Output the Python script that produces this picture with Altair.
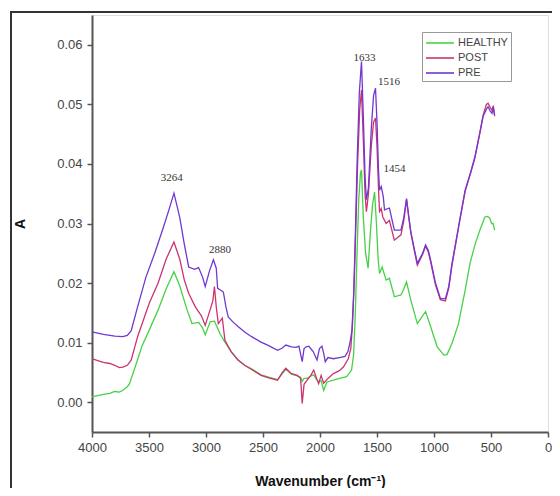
import altair as alt
import pandas as pd

# ---------------- data ----------------
series_names = ["HEALTHY", "POST", "PRE"]
series_colors = ["#47d147", "#cc3370", "#7038d0"]

pre_wn = [4000, 3900, 3800, 3730, 3690, 3656, 3600, 3527, 3450, 3380, 3330, 3281, 3230, 3190, 3152,
          3100, 3065, 3030, 3007, 2970, 2935, 2910, 2898, 2870, 2848, 2825, 2805, 2760, 2719, 2661,
          2600, 2517, 2450, 2372, 2330, 2300, 2250, 2210, 2185, 2156, 2140, 2120, 2098, 2060, 2026,
          2005, 1983, 1965, 1954, 1930, 1882, 1830, 1781, 1755, 1738, 1720, 1705, 1690, 1675, 1655,
          1636, 1620, 1605, 1593, 1575, 1550, 1530, 1513, 1500, 1487, 1478, 1463, 1445, 1434, 1391,
          1348, 1290, 1265, 1241, 1220, 1203, 1170, 1146, 1100, 1074, 1050, 1030, 987, 944, 900,
          870, 842, 780, 727, 680, 641, 600, 569, 540, 526, 505, 491, 480, 468]
pre_a = [0.0118, 0.0114, 0.0111, 0.0110, 0.0112, 0.0120, 0.0160, 0.0210, 0.0250, 0.0290, 0.0320, 0.0351, 0.0310, 0.0265, 0.0227,
         0.0223, 0.0226, 0.0210, 0.0194, 0.0220, 0.0239, 0.0225, 0.0191, 0.0188, 0.0185, 0.0160, 0.0143, 0.0134, 0.0127, 0.0118,
         0.0110, 0.0101, 0.0095, 0.0087, 0.0091, 0.0096, 0.0093, 0.0092, 0.0094, 0.0068, 0.0090, 0.0093, 0.0094, 0.0085, 0.0071,
         0.0090, 0.0094, 0.0080, 0.0068, 0.0075, 0.0073, 0.0075, 0.0077, 0.0085, 0.0099, 0.0120, 0.0180, 0.0280, 0.0400, 0.0520,
         0.0572, 0.0480, 0.0380, 0.0340, 0.0360, 0.0460, 0.0515, 0.0527, 0.0470, 0.0390, 0.0356, 0.0362, 0.0345, 0.0323, 0.0326,
         0.0289, 0.0289, 0.0310, 0.0342, 0.0310, 0.0286, 0.0255, 0.0233, 0.0250, 0.0264, 0.0255, 0.0239, 0.0200, 0.0174, 0.0174,
         0.0195, 0.0233, 0.0300, 0.0356, 0.0385, 0.0412, 0.0450, 0.0480, 0.0492, 0.0496, 0.0488, 0.0485, 0.0495, 0.0482]

post_wn = [4000, 3950, 3900, 3844, 3800, 3760, 3729, 3690, 3656, 3600, 3498, 3420, 3350, 3281, 3230,
           3190, 3152, 3094, 3040, 3007, 2964, 2940, 2926, 2910, 2892, 2857, 2834, 2780, 2719, 2661,
           2600, 2517, 2450, 2372, 2330, 2300, 2250, 2199, 2170, 2156, 2140, 2113, 2080, 2055, 2030,
           2012, 1990, 1968, 1930, 1882, 1830, 1795, 1752, 1730, 1715, 1700, 1685, 1670, 1652, 1636,
           1620, 1605, 1593, 1575, 1550, 1530, 1513, 1500, 1487, 1478, 1463, 1449, 1420, 1391, 1348,
           1290, 1265, 1241, 1220, 1203, 1170, 1146, 1100, 1074, 1050, 1030, 987, 944, 900, 870,
           842, 780, 727, 680, 641, 600, 569, 540, 526, 505, 491, 480, 468]
post_a = [0.0073, 0.0070, 0.0067, 0.0065, 0.0062, 0.0058, 0.0059, 0.0062, 0.0071, 0.0110, 0.0166, 0.0200, 0.0240, 0.0269, 0.0240,
          0.0205, 0.0183, 0.0160, 0.0145, 0.0129, 0.0155, 0.0170, 0.0194, 0.0160, 0.0132, 0.0141, 0.0104, 0.0085, 0.0071, 0.0062,
          0.0055, 0.0045, 0.0041, 0.0037, 0.0050, 0.0057, 0.0048, 0.0045, 0.0040, -0.0002, 0.0030, 0.0037, 0.0045, 0.0054, 0.0040,
          0.0031, 0.0045, 0.0032, 0.0040, 0.0048, 0.0053, 0.0059, 0.0073, 0.0090, 0.0130, 0.0200, 0.0300, 0.0400, 0.0490, 0.0524,
          0.0440, 0.0350, 0.0320, 0.0350, 0.0430, 0.0470, 0.0477, 0.0430, 0.0360, 0.0320, 0.0325, 0.0311, 0.0300, 0.0305, 0.0272,
          0.0281, 0.0305, 0.0340, 0.0308, 0.0284, 0.0252, 0.0230, 0.0248, 0.0262, 0.0252, 0.0236, 0.0197, 0.0172, 0.0170, 0.0192,
          0.0230, 0.0298, 0.0354, 0.0384, 0.0410, 0.0450, 0.0482, 0.0500, 0.0502, 0.0494, 0.0490, 0.0498, 0.0480]

healthy_wn = [4000, 3950, 3900, 3844, 3800, 3760, 3729, 3690, 3671, 3620, 3560, 3498, 3420, 3350, 3281,
              3230, 3166, 3123, 3065, 3030, 3007, 2964, 2926, 2900, 2877, 2834, 2780, 2719, 2661, 2600,
              2517, 2450, 2372, 2330, 2300, 2250, 2199, 2170, 2156, 2140, 2113, 2080, 2055, 2030, 2012,
              1990, 1968, 1939, 1882, 1830, 1766, 1723, 1705, 1690, 1675, 1660, 1645, 1636, 1620, 1600,
              1578, 1560, 1540, 1521, 1505, 1490, 1478, 1455, 1420, 1391, 1348, 1290, 1265, 1241, 1203,
              1146, 1100, 1074, 1030, 972, 913, 886, 840, 785, 730, 684, 640, 597, 554, 530,
              511, 495, 482, 468]
healthy_a = [0.0009, 0.0011, 0.0013, 0.0015, 0.0018, 0.0017, 0.0020, 0.0026, 0.0031, 0.0060, 0.0095, 0.0121, 0.0155, 0.0190, 0.0219,
             0.0195, 0.0155, 0.0132, 0.0134, 0.0125, 0.0113, 0.0135, 0.0136, 0.0125, 0.0115, 0.0101, 0.0085, 0.0071, 0.0062, 0.0056,
             0.0046, 0.0042, 0.0038, 0.0048, 0.0055, 0.0047, 0.0044, 0.0042, 0.0035, 0.0040, 0.0040, 0.0044, 0.0046, 0.0038, 0.0034,
             0.0036, 0.0020, 0.0034, 0.0037, 0.0040, 0.0043, 0.0054, 0.0080, 0.0150, 0.0250, 0.0340, 0.0385, 0.0390, 0.0310, 0.0250,
             0.0225, 0.0280, 0.0330, 0.0353, 0.0300, 0.0240, 0.0216, 0.0227, 0.0205, 0.0208, 0.0177, 0.0180, 0.0190, 0.0202, 0.0171,
             0.0132, 0.0145, 0.0152, 0.0127, 0.0093, 0.0079, 0.0080, 0.0100, 0.0132, 0.0185, 0.0233, 0.0265, 0.0289, 0.0311, 0.0312,
             0.0309, 0.0300, 0.0300, 0.0289]

peak_labels = ["3264", "2880", "1633", "1516", "1454"]
peak_label_wn = [3300, 2877, 1610, 1394, 1347]
peak_label_a = [0.0376, 0.0255, 0.0577, 0.0538, 0.0391]

x_ticks = [4000, 3750, 3500, 3250, 3000, 2750, 2500, 2250, 2000, 1750, 1500, 1250, 1000, 750, 500, 250, 0]
y_ticks = [0.0, 0.005, 0.01, 0.015, 0.02, 0.025, 0.03, 0.035, 0.04, 0.045, 0.05, 0.055, 0.06, 0.065]

# ---------------- build table ----------------
frames = []
for name, wn, a in [("HEALTHY", healthy_wn, healthy_a), ("POST", post_wn, post_a), ("PRE", pre_wn, pre_a)]:
    frames.append(pd.DataFrame({"wn": wn, "A": a, "sample": name}))
spectra = pd.concat(frames, ignore_index=True)
labels_df = pd.DataFrame({"wn": peak_label_wn, "A": peak_label_a, "text": peak_labels})

W, H = 456, 417
axis_color = "#555555"

x_scale = alt.Scale(domain=[0, 4000], reverse=True, nice=False, zero=False)
y_scale = alt.Scale(domain=[-0.005, 0.065], nice=False, zero=False)

x_axis = alt.Axis(
    title="Wavenumber (cm⁻¹)", values=x_ticks, format="d",
    labelExpr="datum.value % 500 == 0 ? datum.label : ''",
    grid=False, domainColor=axis_color, domainWidth=2, tickColor=axis_color, tickWidth=1.5, tickSize=5,
    labelColor="#444444", labelFont="Liberation Sans", labelFontSize=13, labelPadding=4,
    labelFlush=False, labelOverlap=False,
    titleFont="Liberation Sans", titleFontSize=14, titleFontWeight="bold", titleColor="#111111",
    titleY=49, titleBaseline="middle",
)
y_axis = alt.Axis(
    title="A", values=y_ticks, format=".2f",
    labelExpr="round(datum.value * 200) % 2 == 0 ? format(datum.value, '.2f') : ''",
    grid=False, domainColor=axis_color, domainWidth=2, tickColor=axis_color, tickWidth=1.5, tickSize=5,
    labelColor="#444444", labelFont="Liberation Sans", labelFontSize=13, labelPadding=5,
    labelFlush=False, labelOverlap=False,
    titleFont="Liberation Sans", titleFontSize=14, titleFontWeight="bold", titleColor="#111111",
    titleX=-72, titleY=H / 2, titleBaseline="middle",
)

lines = alt.Chart(spectra).mark_line(strokeWidth=1.3).encode(
    x=alt.X("wn:Q", scale=x_scale, axis=x_axis),
    y=alt.Y("A:Q", scale=y_scale, axis=y_axis),
    color=alt.Color(
        "sample:N",
        scale=alt.Scale(domain=series_names, range=series_colors),
        legend=alt.Legend(
            title=None, orient="none", legendX=330, legendY=17,
            symbolType="M-1,0H3", symbolSize=196, symbolStrokeWidth=1.6,
            labelFont="Liberation Sans", labelFontSize=11, labelColor="#444444", labelOffset=17,
            strokeColor="#999999", padding=3, rowPadding=2, fillColor="white",
        ),
    ),
    detail="sample:N",
)

text = alt.Chart(labels_df).mark_text(
    font="Liberation Serif", fontSize=11, color="#333333", align="center", baseline="middle"
).encode(
    x=alt.X("wn:Q", scale=x_scale),
    y=alt.Y("A:Q", scale=y_scale),
    text="text:N",
)

frame = alt.Chart(pd.DataFrame({"k": [0]})).mark_rect(
    fillOpacity=0, stroke="#333333", strokeWidth=2
).encode(
    x=alt.value(-81), x2=alt.value(W + 30), y=alt.value(-3), y2=alt.value(H + 80)
)

chart = alt.layer(lines, text, frame).properties(
    width=W, height=H,
    autosize=alt.AutoSizeParams(type="none"),
    padding={"left": 84, "top": 7, "right": 4, "bottom": 56},
).configure_view(stroke=None).configure(background="white")

chart.save("out.html", embed_options={"renderer": "svg", "actions": False})
